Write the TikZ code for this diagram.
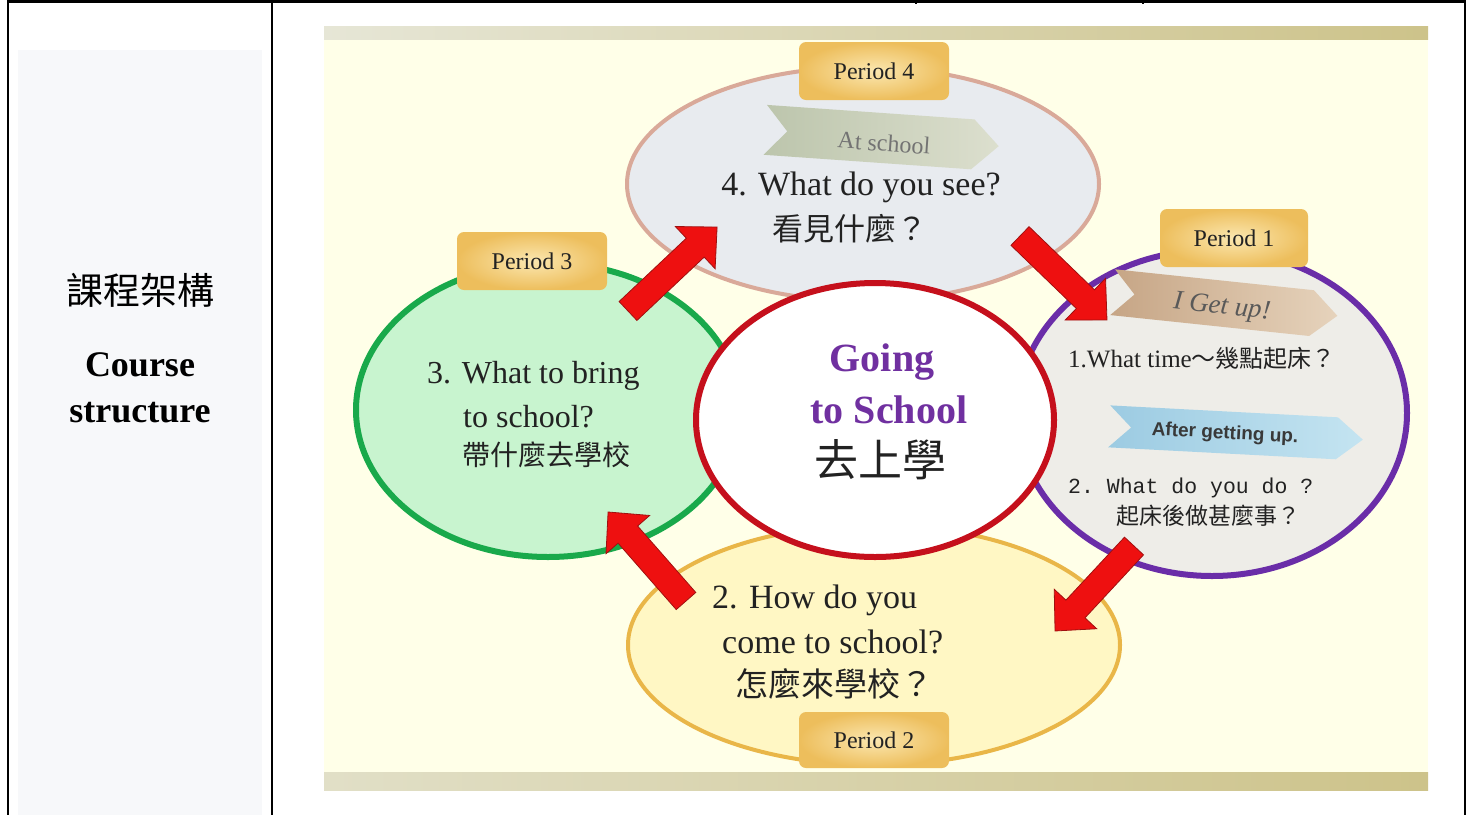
\documentclass[tikz,border=0pt]{standalone}
\usepackage{fontspec}
\setmainfont{Liberation Serif}
\newfontfamily\cjk{Noto Sans CJK TC}
\newfontfamily\monof{Liberation Mono}
\newfontfamily\sansf{Liberation Sans}
\usetikzlibrary{shapes.geometric}
\newcommand\fsz[1]{\fontsize{#1}{#1}\selectfont}
\definecolor{panel}{HTML}{F7F8FA}
\definecolor{cream}{HTML}{FFFFE8}
\definecolor{bandL}{HTML}{E6E6D6}
\definecolor{bandR}{HTML}{CDC38A}
\definecolor{topfill}{HTML}{E8EBEF}
\definecolor{topline}{HTML}{D9A999}
\definecolor{greenfill}{HTML}{C8F4CF}
\definecolor{greenline}{HTML}{19A94B}
\definecolor{purplefill}{HTML}{EEEDE8}
\definecolor{purpleline}{HTML}{6A2DA8}
\definecolor{yellowfill}{HTML}{FFF7C4}
\definecolor{yellowline}{HTML}{E9B648}
\definecolor{redline}{HTML}{C5101C}
\definecolor{arrowred}{HTML}{EE1010}
\definecolor{arrowline}{HTML}{A01010}
\definecolor{goldout}{HTML}{EDBE5C}
\definecolor{goldin}{HTML}{FBE7B0}
\definecolor{ptext}{HTML}{7030A0}
\definecolor{ink}{HTML}{222222}
\definecolor{bnAL}{HTML}{BCC5AC}
\definecolor{bnAR}{HTML}{DCDFCE}
\definecolor{bnBL}{HTML}{C6A585}
\definecolor{bnBR}{HTML}{E6D3BC}
\definecolor{bnCL}{HTML}{9CCBE2}
\definecolor{bnCR}{HTML}{C4E4F1}
\newcommand\redarrow[4]{%
  \begin{scope}[shift={(#1,#2)},rotate=#3]
    \filldraw[arrowsty] (0,13) -- ({#4-30},13) -- ({#4-30},29) -- (#4,0) -- ({#4-30},-29) -- ({#4-30},-13) -- (0,-13) -- cycle;
  \end{scope}}
\newcommand\banner[7]{%
  \begin{scope}[shift={(#1,#2)},rotate=#5]
    \shade[left color=#6, right color=#7] ({-#3/2},{-#4/2}) -- ({#3/2-26},{-#4/2}) -- ({#3/2},0) -- ({#3/2-26},{#4/2}) -- ({-#3/2},{#4/2}) -- ({-#3/2+22},0) -- cycle;
  \end{scope}}
\begin{document}
\begin{tikzpicture}[x=1pt,y=-1pt,
  ell/.style={ellipse, inner sep=0pt},
  arrowsty/.style={fill=arrowred, draw=arrowline, line width=0.8pt, line join=miter},
  period/.style={rounded corners=7pt, minimum width=150pt, minimum height=58pt, inner color=goldin, outer color=goldout, text=ink, font=\fsz{24}},
  q/.style={text=ink, inner sep=0pt, font=\fsz{34}},
  qc/.style={text=ink, inner sep=0pt},
]
\useasboundingbox (0,0) rectangle (1470,815);
\fill[white] (0,0) rectangle (1470,815);
% left panel
\fill[panel] (18,50) rectangle (262,815);
\node[inner sep=0pt, font=\cjk\fsz{37}] (t1) at (140,290) {課程架構};
\node[inner sep=0pt, font=\bfseries\fsz{36}] (t2) at (140,365) {Course};
\node[inner sep=0pt, font=\bfseries\fsz{36}] (t3) at (140,413) {structure};
% table lines
\draw[line width=2.5pt] (8,1.5) -- (1465,1.5);
\draw[line width=2.5pt] (8,0) -- (8,815);
\draw[line width=2.5pt] (272,0) -- (272,815);
\draw[line width=2.5pt] (1465,0) -- (1465,815);
\draw[line width=1.5pt] (916,0) -- (916,4);
\draw[line width=1.5pt] (1143,0) -- (1143,4);
% picture area
\fill[cream] (324,26) rectangle (1428,790);
\shade[left color=bandL, right color=bandR] (324,26) rectangle (1428,39);
\shade[left color=bandL!80!bandR, right color=bandR] (324,772) rectangle (1428,790);
% ellipses
\node[ell, fill=yellowfill, draw=yellowline, line width=4pt, minimum width=492pt, minimum height=240pt] (e2) at (874,645) {};
\node[ell, fill=topfill, draw=topline, line width=4pt, minimum width=472pt, minimum height=234pt] (e4) at (863,184) {};
\node[ell, fill=greenfill, draw=greenline, line width=6pt, minimum width=384pt, minimum height=294pt] (e3) at (548,410) {};
\node[ell, fill=purplefill, draw=purpleline, line width=6pt, minimum width=390pt, minimum height=326pt] (e1) at (1212,413) {};
\node[ell, fill=white, draw=redline, line width=6pt, minimum width=358pt, minimum height=274pt] (ec) at (875,420) {};
% arrows
\redarrow{628}{311}{43.3}{122.4}
\redarrow{1020}{236}{-44.0}{120.9}
\redarrow{1134}{546}{-132.9}{116.0}
\redarrow{686}{601}{131.2}{118.3}
% banners
\banner{882}{138}{234}{50}{-4}{bnAL}{bnAR}
\banner{1225}{304}{226}{46}{-6}{bnBL}{bnBR}
\banner{1236}{433}{254}{42}{-3}{bnCL}{bnCR}
\node[text=gray!90!black, inner sep=0pt, rotate=-4, font=\fsz{24}] (b4) at (884,143) {At school};
\node[text=gray!70!black, inner sep=0pt, rotate=-6, font=\itshape\fsz{27}] (b1a) at (1222,308) {I Get up!};
\node[text=gray!45!black, inner sep=0pt, rotate=-3, font=\sansf\bfseries\fsz{19}] (b1b) at (1225,434) {After getting up.};
% period boxes
\node[period] (p4) at (874,71) {Period 4};
\node[period] (p3) at (532,261) {Period 3};
\node[period, minimum width=148pt] (p1) at (1234,238) {Period 1};
\node[period, minimum height=56pt] (p2) at (874,740) {Period 2};
% texts top
\node[q] (q4a) at (861,187) {4. What do you see?};
\node[qc, font=\cjk\fsz{31}] (q4b) at (850,229) {看見什麼？};
% left
\node[q, anchor=west, font=\fsz{32}] (q3a) at (427,376) {3. What to bring};
\node[q, anchor=west, font=\fsz{32}] (q3b) at (463,417) {to school?};
\node[qc, anchor=west, font=\cjk\fsz{28}] (q3c) at (462,455) {帶什麼去學校};
% right
\node[qc, anchor=west] (q1a) at (1068,358) {\fsz{25}1.What time{\cjk\fsz{24}～幾點起床？}};
\node[qc, anchor=west, font=\monof\fsz{21.5}] (q1b) at (1068,488) {2.~What do you do ?};
\node[qc, anchor=west, font=\cjk\fsz{23}] (q1c) at (1116,516) {起床後做甚麼事？};
% bottom
\node[q, anchor=west] (q2a) at (712,600) {2. How do you};
\node[q, anchor=west] (q2b) at (722,642) {come to school?};
\node[qc, anchor=west, font=\cjk\fsz{33}] (q2c) at (735,684) {怎麼來學校？};
% centre
\node[text=ptext, inner sep=0pt, font=\bfseries\fsz{40}] (c1) at (882,362) {Going};
\node[text=ptext, inner sep=0pt, font=\bfseries\fsz{40}] (c2) at (889,410) {to School};
\node[qc, font=\cjk\fsz{44}] (c3) at (880,460) {去上學};
\end{tikzpicture}
\end{document}
